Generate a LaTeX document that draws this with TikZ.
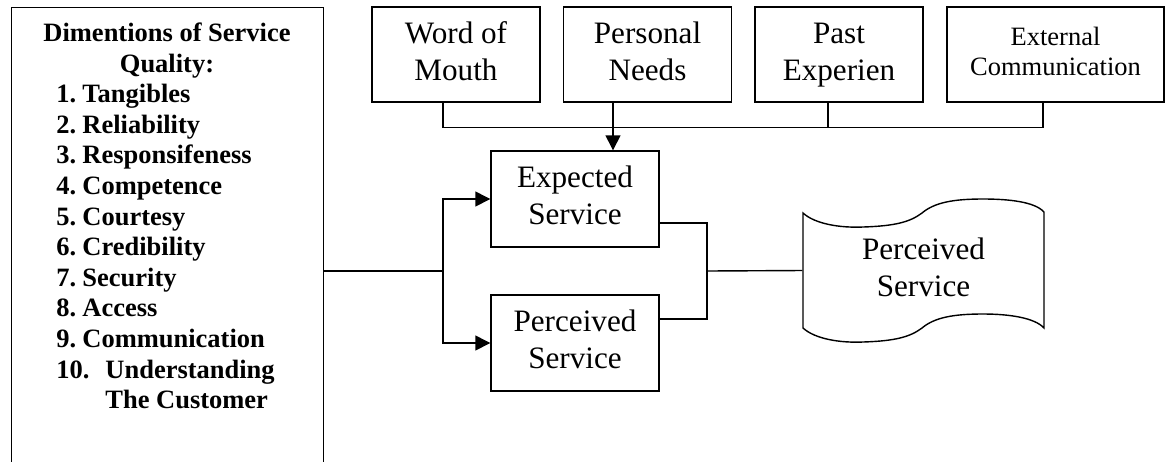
\documentclass[tikz,border=0pt]{standalone}
\usepackage{fontspec}
\setmainfont{Liberation Serif}
\usetikzlibrary{arrows.meta,positioning}
\tikzset{
  box/.style={rectangle, draw=black, line width=0.6pt, minimum width=2.52cm,
    minimum height=1.425cm, align=center, inner sep=2pt,
    font=\fontsize{13.3}{15.8}\selectfont, execute at end node=\strut},
  item/.style={inner sep=0pt, font=\bfseries\fontsize{11.3}{13}\selectfont},
  ar/.style={-{Triangle[length=6.4pt,width=6.4pt]}, line width=0.6pt},
  link/.style={line width=0.6pt},
}

\begin{document}
\begin{tikzpicture}[x=0.015cm, y=-0.015cm]
\useasboundingbox (0,0) rectangle (1170,461);

% ===================== DIMENSIONS LIST =====================
\node[box, anchor=north west, minimum width=4.68cm, minimum height=9cm] (dims) at (11,7) {};
\node[item, anchor=base] (t1) at (167,41.4) {Dimentions of Service};
\node[item, anchor=base] (t2) at (167,72) {Quality:};
\foreach \d [count=\i] in {Tangibles,Reliability,Responsifeness,Competence,Courtesy,Credibility,Security,Access,Communication} {
  \node[item, anchor=base west] (n\i) at (56,{72+30.6*\i}) {\i.};
  \node[item, anchor=base west] (d\i) at (82,{72+30.6*\i}) {\d};
}
\node[item, anchor=base west] (n10) at (56,378) {10.};
\node[item, anchor=base west] (d10) at (105,378) {Understanding};
\node[item, anchor=base west] (d11) at (105,408.6) {The Customer};

% ===================== EXPECTATION SOURCES =====================
\node[box] (wom)  at (456,54.5)   {\strut Word of\\Mouth};
\node[box] (need) at (647.5,54.5) {\strut Personal\\Needs};
\node[box] (past) at (839,54.5)   {\strut Past\\Experien};
\node[box, minimum width=3.255cm, font=\fontsize{11.3}{12.8}\selectfont] (ext) at (1055.5,54.5) {\strut External\\Communication};

\draw[link] ([xshift=-0.195cm]wom.south) -- ++(0,25) -| ([xshift=-0.1875cm]ext.south);
\draw[link] ([xshift=-0.165cm]past.south) -- ++(0,25);

% ===================== SERVICE BOXES =====================
\node[box, minimum height=1.44cm] (expect)   at (575,199) {\strut Expected\\Service};
\node[box, minimum height=1.44cm] (perceive) at (575,343) {\strut Perceived\\Service};
\node[box, draw=none, minimum width=3.615cm, minimum height=1.725cm] (wave) at (923.5,270.5) {\strut Perceived\\Service};

\draw[link] (803,213) .. controls (815,224) and (840,228) .. (863,227)
  .. controls (895,226) and (910,222) .. (922,213)
  .. controls (935,202) and (955,199) .. (983,199)
  .. controls (1010,199) and (1035,202) .. (1044,212)
  -- (1044,328)
  .. controls (1035,318) and (1010,314) .. (983,314)
  .. controls (955,314) and (935,317) .. (922,328)
  .. controls (910,337) and (895,341) .. (863,342)
  .. controls (840,343) and (815,339) .. (803,328) -- cycle;

\draw[ar] ([xshift=-0.5175cm]need.south) -- ([xshift=-0.5175cm]need.south |- expect.north);

\coordinate (split) at (443,271);
\coordinate (join)  at (707,271);
\draw[link] (dims.east |- split) -- (split);
\draw[ar] (split) |- (expect.west);
\draw[ar] (split) |- (perceive.west);
\draw[link] ([yshift=-0.36cm]expect.east) -| (join);
\draw[link] ([yshift=0.36cm]perceive.east) -| (join);
\draw[link] (join) -- (wave.west);

\end{tikzpicture}
\end{document}
